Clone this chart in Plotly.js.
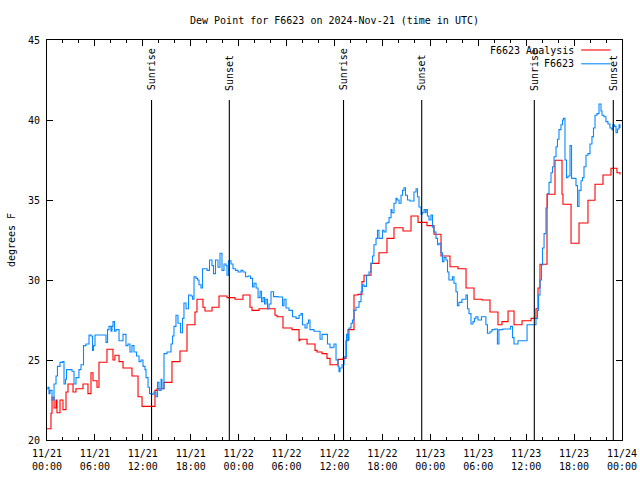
<!DOCTYPE html>
<html>
<head>
<meta charset="utf-8">
<script src="https://cdn.plot.ly/plotly-3.0.1.min.js"></script>
<style>html,body{margin:0;padding:0;background:#fff;}#chart{width:640px;height:480px;}</style>
</head>
<body>
<div id="chart"></div>
<script>
// Hours after 2024-11-21 00:00 UTC
const analysisHours = [0,0.50,0.63,0.88,1.13,1.25,1.63,2.00,2.38,2.63,3.26,3.63,4.51,5.13,5.51,5.76,6.26,6.51,7.51,8.26,8.51,9.02,9.52,10.64,11.40,11.90,13.52,13.77,14.65,15.65,16.65,17.53,18.53,18.78,19.53,19.78,20.66,21.54,22.54,23.54,24.54,25.42,25.67,26.55,28.55,28.80,29.55,30.68,31.56,31.68,32.56,33.56,33.81,34.44,35.06,35.44,36.44,37.07,37.44,37.69,38.44,38.94,39.44,39.70,40.57,41.57,42.57,43.45,44.58,45.58,46.46,47.58,48.46,49.34,50.46,51.46,52.47,53.47,54.47,55.47,56.47,56.97,57.73,58.48,59.48,60.61,61.23,61.48,61.73,62.61,63.61,64.49,64.61,65.62,66.62,67.74,68.62,69.62,70.62,71.37,71.75];
const analysisValues = [20.7,21.67,22.67,22.0,22.5,21.7,22.5,21.9,23.0,23.5,23.0,23.2,23.5,22.9,24.2,23.7,23.3,24.86,25.67,25.0,25.3,24.9,24.5,24.0,22.7,22.1,23.1,23.2,23.6,24.9,25.56,27.2,28.0,28.8,28.3,28.06,28.3,29.0,28.9,28.8,29.06,28.3,28.1,28.2,27.8,27.7,27.0,26.9,26.2,26.3,26.0,25.6,25.5,25.4,25.1,24.7,25.04,25.1,26.2,26.9,29.06,29.1,29.9,30.3,31.04,31.7,32.6,33.27,33.06,34.0,33.6,33.4,32.86,31.5,30.83,30.7,29.5,28.8,28.75,28.0,27.2,27.4,28.06,27.2,27.45,27.6,28.2,29.5,30.98,35.36,37.48,35.36,34.73,32.3,33.56,34.98,35.98,36.56,36.98,36.7,36.6];

const obsHours = [0.0,0.13,0.25,0.38,0.63,0.88,1.13,1.31,1.63,1.94,2.13,2.32,2.44,2.88,3.13,3.38,3.63,4.0,4.26,4.45,4.57,4.88,5.26,5.51,5.70,5.82,6.01,6.64,7.14,7.39,7.58,7.76,8.01,8.14,8.26,8.45,8.64,9.02,9.27,9.52,9.89,10.14,10.39,10.64,10.89,11.21,11.52,11.77,12.02,12.27,12.40,12.65,12.84,13.15,13.40,13.65,13.84,14.02,14.28,14.40,14.65,15.03,15.34,15.53,15.72,15.90,16.15,16.40,16.72,16.97,17.15,17.41,17.72,18.03,18.22,18.41,18.66,18.85,19.03,19.28,19.47,19.78,20.04,20.35,20.66,20.85,21.10,21.41,21.66,21.91,22.16,22.41,22.54,22.73,23.04,23.29,23.60,23.92,24.29,24.54,24.86,25.17,25.49,25.74,25.93,26.18,26.43,26.68,26.86,27.05,27.24,27.42,27.61,27.80,28.05,28.37,28.93,29.49,29.68,29.93,30.30,30.55,30.74,31.18,31.56,31.81,31.99,32.31,32.56,32.74,32.93,33.43,33.93,34.19,34.44,34.81,35.12,35.44,35.69,35.94,36.19,36.44,36.56,36.69,36.94,37.19,37.50,37.69,37.82,38.07,38.25,38.44,38.69,38.88,39.07,39.32,39.51,39.70,40.01,40.32,40.57,40.76,40.94,41.20,41.38,41.57,41.82,42.01,42.20,42.45,42.70,42.83,43.08,43.20,43.45,43.70,43.83,44.08,44.33,44.52,44.70,44.89,45.14,45.45,45.70,45.95,46.21,46.39,46.58,46.83,46.96,47.21,47.39,47.46,47.64,47.83,48.08,48.27,48.46,48.71,48.90,49.09,49.34,49.52,49.71,49.96,50.15,50.33,50.58,50.77,50.96,51.21,51.39,51.58,51.96,52.33,52.46,52.65,52.84,53.09,53.34,53.52,53.71,53.96,54.21,54.40,54.71,54.96,55.15,55.46,55.71,56.09,56.40,56.59,57.09,57.59,58.04,58.29,58.48,58.98,59.48,59.86,60.11,60.61,61.11,61.23,61.42,61.55,61.73,61.92,62.05,62.24,62.48,62.67,62.86,63.11,63.30,63.49,63.74,63.92,64.11,64.36,64.55,64.67,64.86,65.05,65.24,65.49,65.68,65.99,66.24,66.43,66.62,66.87,67.05,67.24,67.49,67.74,67.99,68.24,68.43,68.62,68.87,69.12,69.37,69.50,69.74,69.99,70.24,70.49,70.74,70.86,71.05,71.25,71.43,71.63,71.75];
const obsValues = [23.2,23.3,22.9,23.1,22.5,23.5,24.0,24.6,24.85,24.9,23.5,23.8,24.4,24.4,24.3,23.5,23.9,24.4,24.7,24.7,25.9,26.0,26.56,26.5,25.6,25.9,26.56,26.56,26.56,26.1,26.9,27.1,26.8,27.1,27.4,26.8,26.9,26.2,26.2,26.6,25.9,26.0,25.5,25.9,25.5,25.25,24.9,25.0,24.6,24.4,23.9,23.3,22.9,22.86,23.0,22.7,23.6,23.1,23.8,23.2,25.4,25.5,25.5,26.0,26.5,27.1,27.8,27.3,26.7,27.6,28.56,28.2,29.06,29.0,28.8,30.2,30.1,30.0,29.7,29.5,30.7,30.7,30.6,31.25,30.9,30.4,31.25,30.8,31.67,30.6,31.0,30.9,30.3,31.2,31.0,30.7,30.6,30.5,30.6,30.5,30.2,30.25,30.1,29.56,29.8,29.5,28.9,29.3,28.65,28.9,28.5,28.8,28.2,28.5,29.27,28.96,28.94,28.4,28.8,28.25,28.1,28.1,27.7,27.6,27.8,27.9,27.2,27.0,27.3,27.5,26.9,26.8,26.8,26.3,26.6,26.6,26.0,25.77,25.8,26.0,25.0,24.6,24.27,24.5,24.7,25.2,26.6,26.25,27.0,27.3,27.5,28.1,28.3,28.3,28.65,29.27,29.7,29.6,30.3,30.5,31.04,31.5,32.2,32.6,33.1,32.6,32.6,33.1,33.0,33.56,33.6,33.9,34.4,34.2,34.8,35.1,35.0,34.8,35.3,35.6,35.77,35.3,35.0,34.94,34.94,35.5,35.7,35.2,34.56,34.1,34.2,34.4,34.2,34.4,34.0,33.75,34.06,33.3,33.0,32.6,32.2,32.3,31.7,31.15,31.4,31.25,30.5,30.0,30.0,30.2,29.8,29.27,28.4,28.6,28.8,28.8,29.06,28.2,27.9,27.25,27.4,27.6,27.7,27.5,27.5,27.7,27.7,27.2,26.67,26.77,26.9,26.94,26.0,26.9,26.94,26.94,27.1,26.4,26.0,26.2,26.2,26.2,27.2,27.2,27.2,27.6,28.1,29.06,30.0,30.94,32.0,32.9,34.5,35.4,36.1,36.7,37.08,37.7,38.33,38.8,39.4,39.7,40.0,40.1,37.5,36.4,36.5,38.4,36.35,36.35,35.9,34.6,35.6,36.2,36.4,37.08,37.8,37.9,38.5,38.96,39.5,40.3,40.4,41.0,40.56,40.3,40.2,39.9,39.75,39.5,39.4,39.7,39.6,39.2,39.44,39.7,39.5];

const eventHours = [13.09, 22.83, 37.13, 46.92, 61.02, 70.91];
const eventLabels = ["Sunrise","Sunset","Sunrise","Sunset","Sunrise","Sunset"];

const seriesNames = ["F6623 Analysis", "F6623"];
const yTicks = [20,25,30,35,40,45];

const BASE = Date.UTC(2024, 10, 21, 0, 0, 0);
function toDate(h){ return new Date(BASE + Math.round(h*3600000)).toISOString().replace('T',' ').slice(0,19); }

const FONT = {family: "DejaVu Sans Mono, Liberation Mono, monospace", size: 10, color: "#000"};
const RED = "#ff0000", BLUE = "#0a88ff";

const traces = [
  {x: analysisHours.map(toDate), y: analysisValues, type: "scatter", mode: "lines",
   line: {color: RED, width: 1.1, shape: "hv"}, name: seriesNames[0], showlegend: false, hoverinfo: "skip"},
  {x: obsHours.map(toDate), y: obsValues, type: "scatter", mode: "lines",
   line: {color: BLUE, width: 1.1, shape: "hv"}, name: seriesNames[1], showlegend: false, hoverinfo: "skip"}
];

const shapes = eventHours.map(h => ({type: "line", xref: "x", yref: "y", x0: toDate(h), x1: toDate(h), y0: 20, y1: 41.25,
  line: {color: "#000", width: 1.1}}));
const annotations = eventHours.map((h, i) => ({xref: "x", yref: "y", x: toDate(h), y: 41.7, text: eventLabels[i],
  textangle: -90, showarrow: false, xanchor: "center", yanchor: "bottom", font: FONT}));

// gnuplot-style key (text right, sample line at right)
const keyRows = [0.975, 0.9405];
const keyColors = [RED, BLUE];
seriesNames.forEach((n, i) => {
  annotations.push({xref: "paper", yref: "paper", x: 0.92, y: keyRows[i], text: n, showarrow: false,
    xanchor: "right", yanchor: "middle", font: FONT, bgcolor: "rgba(0,0,0,0)"});
  shapes.push({type: "line", xref: "paper", yref: "paper", x0: 0.929, x1: 0.98, y0: keyRows[i], y1: keyRows[i],
    line: {color: keyColors[i], width: 1.1}});
});

const layout = {
  width: 640, height: 480,
  margin: {l: 47, r: 18, t: 40, b: 40, pad: 0},
  paper_bgcolor: "#fff", plot_bgcolor: "#fff",
  font: FONT,
  showlegend: false,
  title: {text: "Dew Point for F6623 on 2024-Nov-21 (time in UTC)", font: FONT, x: 0.5, xref: "paper", y: 0.958, yanchor: "middle"},
  xaxis: {
    type: "date", range: [toDate(0), toDate(72)],
    tick0: toDate(0), dtick: 6*3600000, tickformat: "%m/%d<br>%H:%M",
    ticks: "inside", ticklen: 6, tickcolor: "#000", tickwidth: 1, ticklabelstandoff: 4,
    showline: true, linecolor: "#000", linewidth: 1, mirror: "allticks",
    showgrid: false, zeroline: false, tickfont: FONT,
    minor: {dtick: 2*3600000, ticks: "inside", ticklen: 3, tickcolor: "#000", showgrid: false}
  },
  yaxis: {
    range: [20, 45], tickvals: yTicks, ticktext: yTicks.map(String),
    ticks: "inside", ticklen: 6, tickcolor: "#000", tickwidth: 1, ticklabelstandoff: 4,
    showline: true, linecolor: "#000", linewidth: 1, mirror: "allticks",
    showgrid: false, zeroline: false, tickfont: FONT,
    title: {text: "degrees F", font: FONT, standoff: 10}
  },
  shapes: shapes,
  annotations: annotations
};

Plotly.newPlot("chart", traces, layout, {staticPlot: true, displayModeBar: false});
</script>
</body>
</html>
